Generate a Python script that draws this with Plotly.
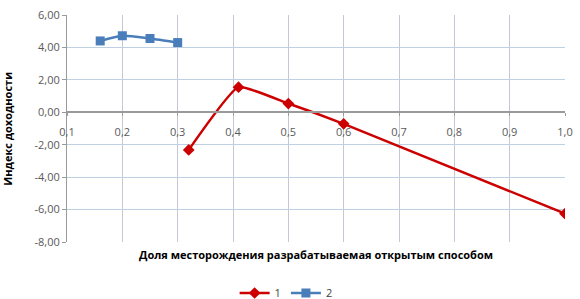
import plotly.graph_objects as go

x1 = [0.32, 0.41, 0.50, 0.60, 1.00]
y1 = [-2.32, 1.55, 0.54, -0.71, -6.25]
x2 = [0.16, 0.20, 0.25, 0.30]
y2 = [4.40, 4.72, 4.55, 4.30]
name1 = "1"
name2 = "2"
x_title = "Доля месторождения разрабатываемая открытым способом"
y_title = "Индекс доходности"
y_tickvals = [-8, -6, -4, -2, 0, 2, 4, 6]
y_ticktext = ["-8,00", "-6,00", "-4,00", "-2,00", "0,00", "2,00", "4,00", "6,00"]
x_tickvals = [0.1, 0.2, 0.3, 0.4, 0.5, 0.6, 0.7, 0.8, 0.9, 1.0]
x_ticktext = ["0,1", "0,2", "0,3", "0,4", "0,5", "0,6", "0,7", "0,8", "0,9", "1,0"]

fig = go.Figure()
fig.add_trace(go.Scatter(x=x1, y=y1, name=name1, mode="lines+markers",
                         line=dict(color="#cc0000", width=2.5, shape="spline", smoothing=0.4),
                         marker=dict(symbol="diamond", size=9, color="#cc0000")))
fig.add_trace(go.Scatter(x=x2, y=y2, name=name2, mode="lines+markers",
                         line=dict(color="#4a7ebb", width=2.5, shape="spline", smoothing=0.6),
                         marker=dict(symbol="square", size=9, color="#4a7ebb")))

ymin, ymax = -8, 6
fig.update_layout(
    width=580, height=299,
    margin=dict(l=67, r=8, t=7, b=57),
    plot_bgcolor="white", paper_bgcolor="white",
    font=dict(family="Open Sans, Liberation Sans, sans-serif", size=11, color="#404040"),
    xaxis=dict(range=[0.1, 1.0], tickvals=x_tickvals, ticktext=x_ticktext,
               showgrid=True, gridcolor="#c3c9d3", gridwidth=1,
               showline=True, linecolor="#9a9a9a", linewidth=1.5,
               anchor="free", position=(0 - ymin) / (ymax - ymin),
               ticks="outside", ticklen=3, tickcolor="#9a9a9a", ticklabelstandoff=7,
               tickfont=dict(size=11, color="#595959"), zeroline=False),
    yaxis=dict(range=[ymin, ymax], tickvals=y_tickvals, ticktext=y_ticktext,
               showgrid=True, gridcolor="#bfd0e2", gridwidth=1,
               showline=True, linecolor="#9a9a9a", linewidth=1,
               ticks="outside", ticklen=4, tickcolor="#9a9a9a",
               ticklabeloverflow="allow",
               tickfont=dict(size=11, color="#595959"), zeroline=False),
    showlegend=True,
    legend=dict(orientation="h", x=0.44, xanchor="center", yref="container",
                y=0.02, yanchor="middle",
                font=dict(size=11, color="#404040"), itemwidth=30,
                bgcolor="rgba(0,0,0,0)", tracegroupgap=0),
    annotations=[
        dict(text="<b>" + x_title + "</b>", xref="paper", yref="paper", x=0.5, y=-0.015,
             xanchor="center", yanchor="top", showarrow=False,
             font=dict(size=11, color="#000000", family="Open Sans, sans-serif")),
        dict(text="<b>" + y_title + "</b>", xref="paper", yref="paper", x=-0.12, y=0.5,
             xanchor="center", yanchor="middle", showarrow=False, textangle=-90,
             font=dict(size=11, color="#000000", family="Open Sans, sans-serif")),
    ],
)
fig.write_html("out.html", config={"displayModeBar": False},
               post_script="document.body.style.margin='0';")
